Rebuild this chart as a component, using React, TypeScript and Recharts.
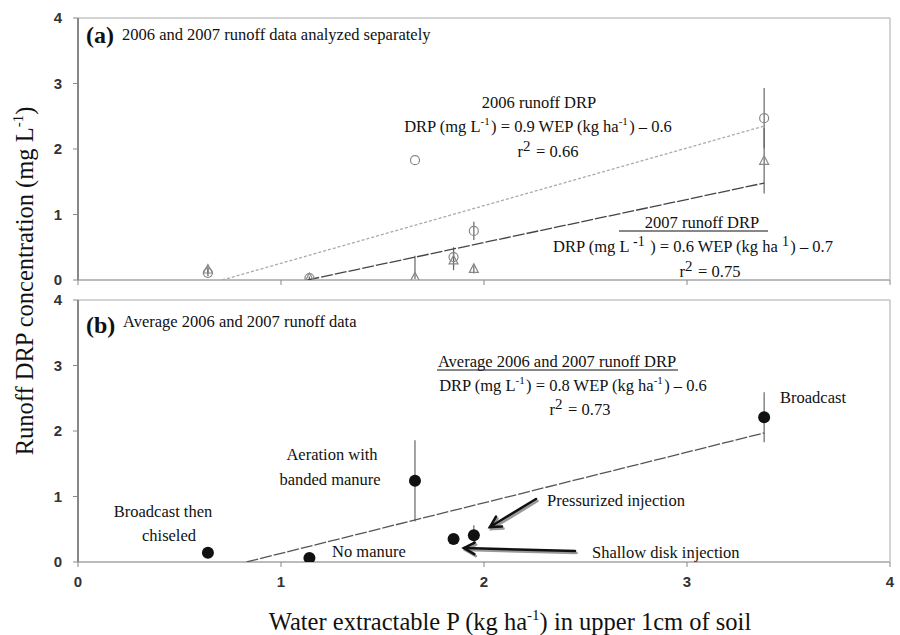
import React from 'react';
import { ComposedChart, Scatter, XAxis, YAxis, ErrorBar, ReferenceLine } from 'recharts';

// shared x positions (WEP, kg/ha) of the six manure treatments
const wep = [0.64, 1.14, 1.66, 1.85, 1.95, 3.38];

// panel (a): 2006 and 2007 runoff DRP
const drp2006 = [0.11, 0.03, 1.83, 0.35, 0.75, 2.47];
const err2006 = [0.05, 0.02, 0, 0.15, 0.14, 0.46];
const drp2007 = [0.16, 0.03, 0.04, 0.3, 0.17, 1.82];
const err2007: (number | number[])[] = [0.06, 0.02, [0.04, 0.33], 0.15, 0.07, 0.5];

// panel (b): average of both years
const drpAvg = [0.14, 0.06, 1.24, 0.35, 0.41, 2.21];
const errAvg = [0, 0, 0.62, 0, 0.15, 0.38];

// regression line end points
const fit2006X = [0.71, 3.38];
const fit2006Y = [0, 2.35];
const fit2007X = [1.13, 3.38];
const fit2007Y = [0, 1.48];
const fitAvgX = [0.83, 3.38];
const fitAvgY = [0, 1.97];

const xTicks = [0, 1, 2, 3, 4];
const yTicks = [0, 1, 2, 3, 4];

const toPts = (xs: number[], ys: number[], es?: any[]) =>
  xs.map((x, i) => ({ x, y: ys[i], e: es ? es[i] : 0 }));

const SERIF = '"Liberation Serif", "Times New Roman", serif';
const SANS = '"Liberation Sans", Arial, sans-serif';

const OpenCircle = (p: any) => (
  <circle cx={p.cx} cy={p.cy} r={4.5} fill="none" stroke="#888" strokeWidth={1.2} />
);
const OpenTriangle = (p: any) => (
  <path
    d={`M${p.cx},${p.cy - 5} L${p.cx + 4.5},${p.cy + 3.5} L${p.cx - 4.5},${p.cy + 3.5} Z`}
    fill="none"
    stroke="#888"
    strokeWidth={1.2}
  />
);
const FilledDot = (p: any) => <circle cx={p.cx} cy={p.cy} r={6} fill="#111" />;
const NoDot = () => <g />;

const tickStyle = { fill: '#333', fontSize: 15, fontWeight: 700, fontFamily: SANS };

function Panel({ top, height, marginTop, showXLabels, children }: any) {
  return (
    <div style={{ position: 'absolute', left: 0, top, width: 900, height }}>
      <ComposedChart
        width={900}
        height={height}
        margin={{ top: marginTop, right: 10, bottom: 0, left: 0 }}
      >
        <XAxis
          type="number"
          dataKey="x"
          domain={[0, 4]}
          ticks={xTicks}
          allowDataOverflow
          axisLine={{ stroke: '#bbb', strokeWidth: 2 }}
          tickLine={{ stroke: '#888' }}
          tickSize={5}
          tickMargin={9}
          tick={showXLabels ? tickStyle : () => <g />}
          height={height - marginTop - 262}
        />
        <YAxis
          type="number"
          dataKey="y"
          domain={[0, 4]}
          ticks={yTicks}
          allowDataOverflow
          axisLine={{ stroke: '#888', strokeWidth: 2 }}
          tickLine={{ stroke: '#888' }}
          tickSize={5}
          tickMargin={11}
          tick={tickStyle}
          width={78}
        />
        <ReferenceLine y={4} stroke="#c4c4c4" strokeWidth={1.5} />
        <ReferenceLine x={4} stroke="#c4c4c4" strokeWidth={1.5} />
        {children}
      </ComposedChart>
    </div>
  );
}

const Arrow = ({ x1, y1, x2, y2 }: any) => {
  const a = Math.atan2(y1 - y2, x1 - x2);
  const L = 12;
  const h1 = [x2 + L * Math.cos(a + 0.5), y2 + L * Math.sin(a + 0.5)];
  const h2 = [x2 + L * Math.cos(a - 0.5), y2 + L * Math.sin(a - 0.5)];
  const draw = (dx: number, dy: number, c: string) => (
    <g stroke={c} strokeWidth={2.6} fill="none" strokeLinecap="round">
      <line x1={x1 + dx} y1={y1 + dy} x2={x2 + dx} y2={y2 + dy} />
      <polyline points={`${h1[0] + dx},${h1[1] + dy} ${x2 + dx},${y2 + dy} ${h2[0] + dx},${h2[1] + dy}`} />
    </g>
  );
  return (
    <g>
      {draw(1.5, 2, '#999')}
      {draw(0, 0, '#111')}
    </g>
  );
};

const Sup = (s: string, size = 11, rise = 7) => [
  <tspan key="a" dy={-rise} fontSize={size}>{s}</tspan>,
  <tspan key="b" dy={rise}>{'\u200a'}</tspan>,
];

function Overlay() {
  const t = { fontFamily: SERIF, fontSize: 16.5, fill: '#111' };
  return (
    <svg
      width={900}
      height={635}
      style={{ position: 'absolute', left: 0, top: 0, pointerEvents: 'none' }}
    >
      {/* axis titles */}
      <text
        transform="translate(33,281) rotate(-90)"
        textAnchor="middle"
        fontFamily={SERIF}
        fontSize={24.5}
        fill="#111"
      >
        Runoff DRP concentration (mg  L<tspan dy={-10} fontSize={15}>-1</tspan>
        <tspan dy={10}>)</tspan>
      </text>
      <text x={510} y={630} textAnchor="middle" fontFamily={SERIF} fontSize={24.5} fill="#111">
        Water extractable P (kg ha<tspan dy={-10} fontSize={15}>-1</tspan>
        <tspan dy={10}>) in upper 1cm of soil</tspan>
      </text>

      {/* panel (a) */}
      <text x={86} y={43} fontFamily={SERIF} fontSize={24} fontWeight={700} fill="#111">(a)</text>
      <text x={122} y={40} {...t}>2006 and 2007 runoff data analyzed separately</text>
      <text x={539} y={108} textAnchor="middle" {...t}>2006 runoff DRP</text>
      <text x={538} y={132} textAnchor="middle" {...t}>
        DRP (mg L{Sup('-1')}) = 0.9 WEP (kg ha{Sup('-1')}) – 0.6
      </text>
      <text x={548} y={157} textAnchor="middle" {...t}>
        r{Sup('2', 15, 6)} = 0.66
      </text>
      <text x={702} y={228} textAnchor="middle" {...t}>2007 runoff DRP</text>
      <line x1={619} y1={231} x2={768} y2={231} stroke="#111" strokeWidth={1} />
      <text x={693} y={252} textAnchor="middle" {...t}>
        DRP (mg L {Sup('-1', 14, 6)} ) = 0.6 WEP (kg ha {Sup('1', 14, 6)}) – 0.7
      </text>
      <text x={710} y={277} textAnchor="middle" {...t}>
        r{Sup('2', 15, 6)} = 0.75
      </text>

      {/* panel (b) */}
      <text x={86} y={333} fontFamily={SERIF} fontSize={24} fontWeight={700} fill="#111">(b)</text>
      <text x={123} y={327} {...t}>Average 2006 and 2007 runoff data</text>
      <text x={557} y={367} textAnchor="middle" {...t}>Average 2006 and 2007 runoff DRP</text>
      <line x1={437} y1={370} x2={678} y2={370} stroke="#111" strokeWidth={1} />
      <text x={573} y={391} textAnchor="middle" {...t}>
        DRP (mg L{Sup('-1')}) = 0.8 WEP (kg ha{Sup('-1')}) – 0.6
      </text>
      <text x={580} y={415} textAnchor="middle" {...t}>
        r{Sup('2', 15, 6)} = 0.73
      </text>
      <text x={780} y={403} {...t}>Broadcast</text>
      <text x={332} y={460} textAnchor="middle" {...t}>Aeration with</text>
      <text x={330} y={485} textAnchor="middle" {...t}>banded manure</text>
      <text x={163} y={517} textAnchor="middle" {...t}>Broadcast then</text>
      <text x={169} y={541} textAnchor="middle" {...t}>chiseled</text>
      <text x={332} y={557} {...t}>No manure</text>
      <text x={547} y={506} {...t}>Pressurized injection</text>
      <text x={592} y={558} {...t}>Shallow disk injection</text>
      <Arrow x1={536} y1={499} x2={490} y2={527} />
      <Arrow x1={575} y1={551} x2={464} y2={548} />
    </svg>
  );
}

export default function App() {
  return (
    <div style={{ position: 'absolute', left: 0, top: 0, width: 900, height: 635, background: '#fff' }}>
      <Panel top={0} height={300} marginTop={18} showXLabels={false}>
        <Scatter
          data={toPts(fit2006X, fit2006Y)}
          line={{ stroke: '#aaa', strokeWidth: 1.3, strokeDasharray: '3 2' }}
          shape={NoDot}
          isAnimationActive={false}
        />
        <Scatter
          data={toPts(fit2007X, fit2007Y)}
          line={{ stroke: '#444', strokeWidth: 1.3, strokeDasharray: '12 2' }}
          shape={NoDot}
          isAnimationActive={false}
        />
        <Scatter data={toPts(wep, drp2006, err2006)} shape={OpenCircle} isAnimationActive={false}>
          <ErrorBar dataKey="e" direction="y" width={0} stroke="#666" strokeWidth={1.2} />
        </Scatter>
        <Scatter data={toPts(wep, drp2007, err2007)} shape={OpenTriangle} isAnimationActive={false}>
          <ErrorBar dataKey="e" direction="y" width={0} stroke="#666" strokeWidth={1.2} />
        </Scatter>
      </Panel>
      <Panel top={285} height={350} marginTop={15} showXLabels>
        <Scatter
          data={toPts(fitAvgX, fitAvgY)}
          line={{ stroke: '#555', strokeWidth: 1.3, strokeDasharray: '12 2' }}
          shape={NoDot}
          isAnimationActive={false}
        />
        <Scatter data={toPts(wep, drpAvg, errAvg)} shape={FilledDot} isAnimationActive={false}>
          <ErrorBar dataKey="e" direction="y" width={0} stroke="#666" strokeWidth={1.2} />
        </Scatter>
      </Panel>
      <Overlay />
    </div>
  );
}
